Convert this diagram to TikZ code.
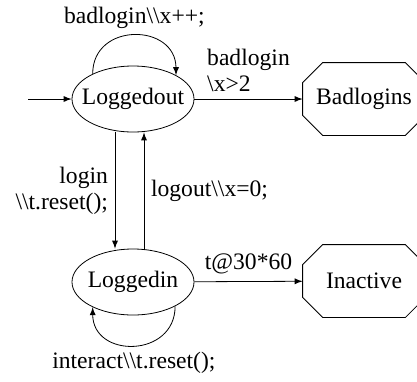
\documentclass[tikz,border=0pt]{standalone}
\usepackage{fontspec}
\setmainfont{Liberation Serif}
\usetikzlibrary{shapes.geometric}

\begin{document}
\begin{tikzpicture}[
            x=1pt, y=1pt,
            >=latex,
            every node/.style={font=\fontsize{11.8}{13}\selectfont},
            state/.style={ellipse, draw, minimum width=61pt, minimum height=33pt,
                inner xsep=-4pt, inner ysep=0pt},
            final/.style={rectangle, minimum width=61pt, minimum height=36pt, inner sep=0pt},
        ]
            \useasboundingbox (0,0) rectangle (208.5,-190.5);

            % states
            \node[state] (loggedout) at (66.5,-49.5) {Loggedout};
            \node[state] (loggedin) at (66.5,-141) {Loggedin};
            \node[final] (badlogins) at (182,-49.5) {Badlogins};
            \node[final] (inactive) at (182,-140.5) {Inactive};
            \coordinate (start) at (14,-49.5);

            % octagon outline round the final states
            \foreach \n in {badlogins, inactive}
                \draw ([xshift=10pt]\n.north west) -- ([xshift=-10pt]\n.north east)
                    -- ([yshift=-10pt]\n.north east) -- ([yshift=10pt]\n.south east)
                    -- ([xshift=-10pt]\n.south east) -- ([xshift=10pt]\n.south west)
                    -- ([yshift=10pt]\n.south west) -- ([yshift=-10pt]\n.north west) -- cycle;

            % transitions
            \draw[->] (start) -- (loggedout);
            \draw[->] (loggedout) -- node[above, align=left] {badlogin\\\textbackslash x>2} (badlogins);
            \draw[->] (loggedin) -- node[above] {t@30*60} (inactive);
            \draw[->] ([xshift=-9pt]loggedout.south) --
                node[left, align=right] {login\\\textbackslash\textbackslash t.reset();}
                ([xshift=-9pt]loggedin.north);
            \draw[->] ([xshift=5.5pt]loggedin.north) --
                node[right] {logout\textbackslash\textbackslash x=0;}
                ([xshift=5.5pt]loggedout.south);

            % self loops
            \draw[->] (loggedout.148) to[out=90, in=90, looseness=1.6]
                node[above] {badlogin\textbackslash\textbackslash x++;} (loggedout.29);
            \draw[->] (loggedin.-30) to[out=-90, in=-90, looseness=1.6]
                node[below] {interact\textbackslash\textbackslash t.reset();} (loggedin.-148);
        \end{tikzpicture}
\end{document}
